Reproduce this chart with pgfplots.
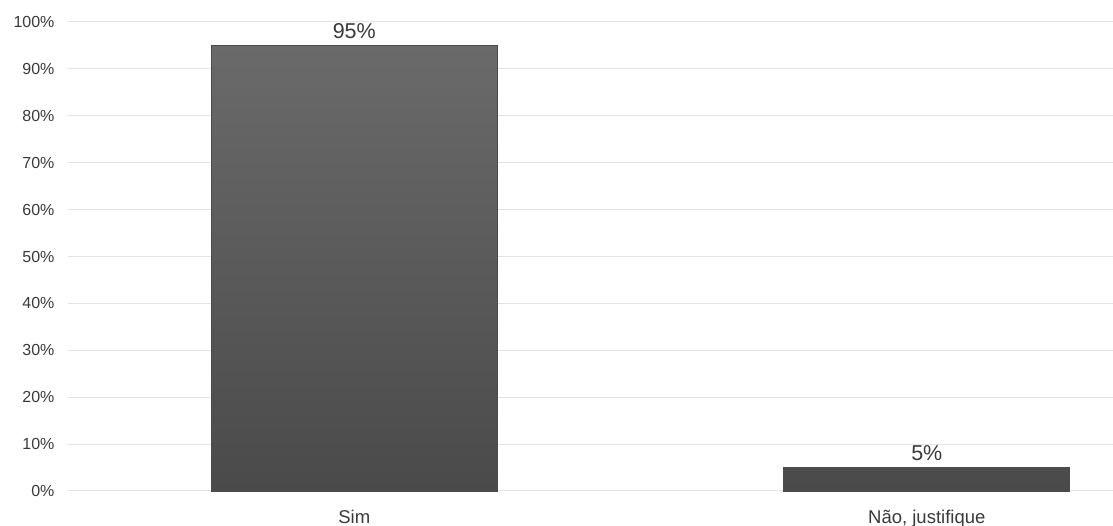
\documentclass[border=0pt]{standalone}
\usepackage{pgfplots}
\pgfplotsset{compat=1.18}
\usepackage{fontspec}
\setmainfont{Liberation Sans}
\definecolor{gridc}{HTML}{E3E3E3}
\definecolor{txt}{HTML}{3A3A3A}
\definecolor{bartop}{HTML}{6A6A6A}
\definecolor{barbot}{HTML}{4A4A4A}
\definecolor{barline}{HTML}{4A4A4A}
\begin{document}
\begin{tikzpicture}[x=1pt,y=1pt]
\useasboundingbox (0,0) rectangle (1113,526);
\begin{axis}[
  at={(68pt,35pt)}, anchor=south west,
  scale only axis, width=1045pt, height=469pt,
  xmin=-0.5, xmax=1.3252, ymin=0, ymax=100,
  axis line style={draw=none},
  tick style={draw=none},
  ytick={0,10,...,100},
  yticklabel={\pgfmathprintnumber{\tick}\%},
  yticklabel style={font=\fontsize{16}{18}\selectfont, text=txt, xshift=-10pt},
  xtick=data,
  xticklabels={Sim, {Não, justifique}},
  xticklabel style={font=\fontsize{18.5}{20}\selectfont, text=txt, yshift=-11pt},
  /pgf/number format/assume math mode=true,
  ymajorgrids, grid style={gridc, line width=1pt},
  ybar, bar width=286pt,
  nodes near coords={\pgfmathprintnumber{\pgfplotspointmeta}\%},
  nodes near coords style={font=\fontsize{21.5}{23}\selectfont, text=txt, yshift=3pt},
  clip=false,
]
\addplot[draw=barline, line width=0.8pt, top color=bartop, bottom color=barbot] coordinates {(0,95) (1,5)};
\end{axis}
\end{tikzpicture}
\end{document}
